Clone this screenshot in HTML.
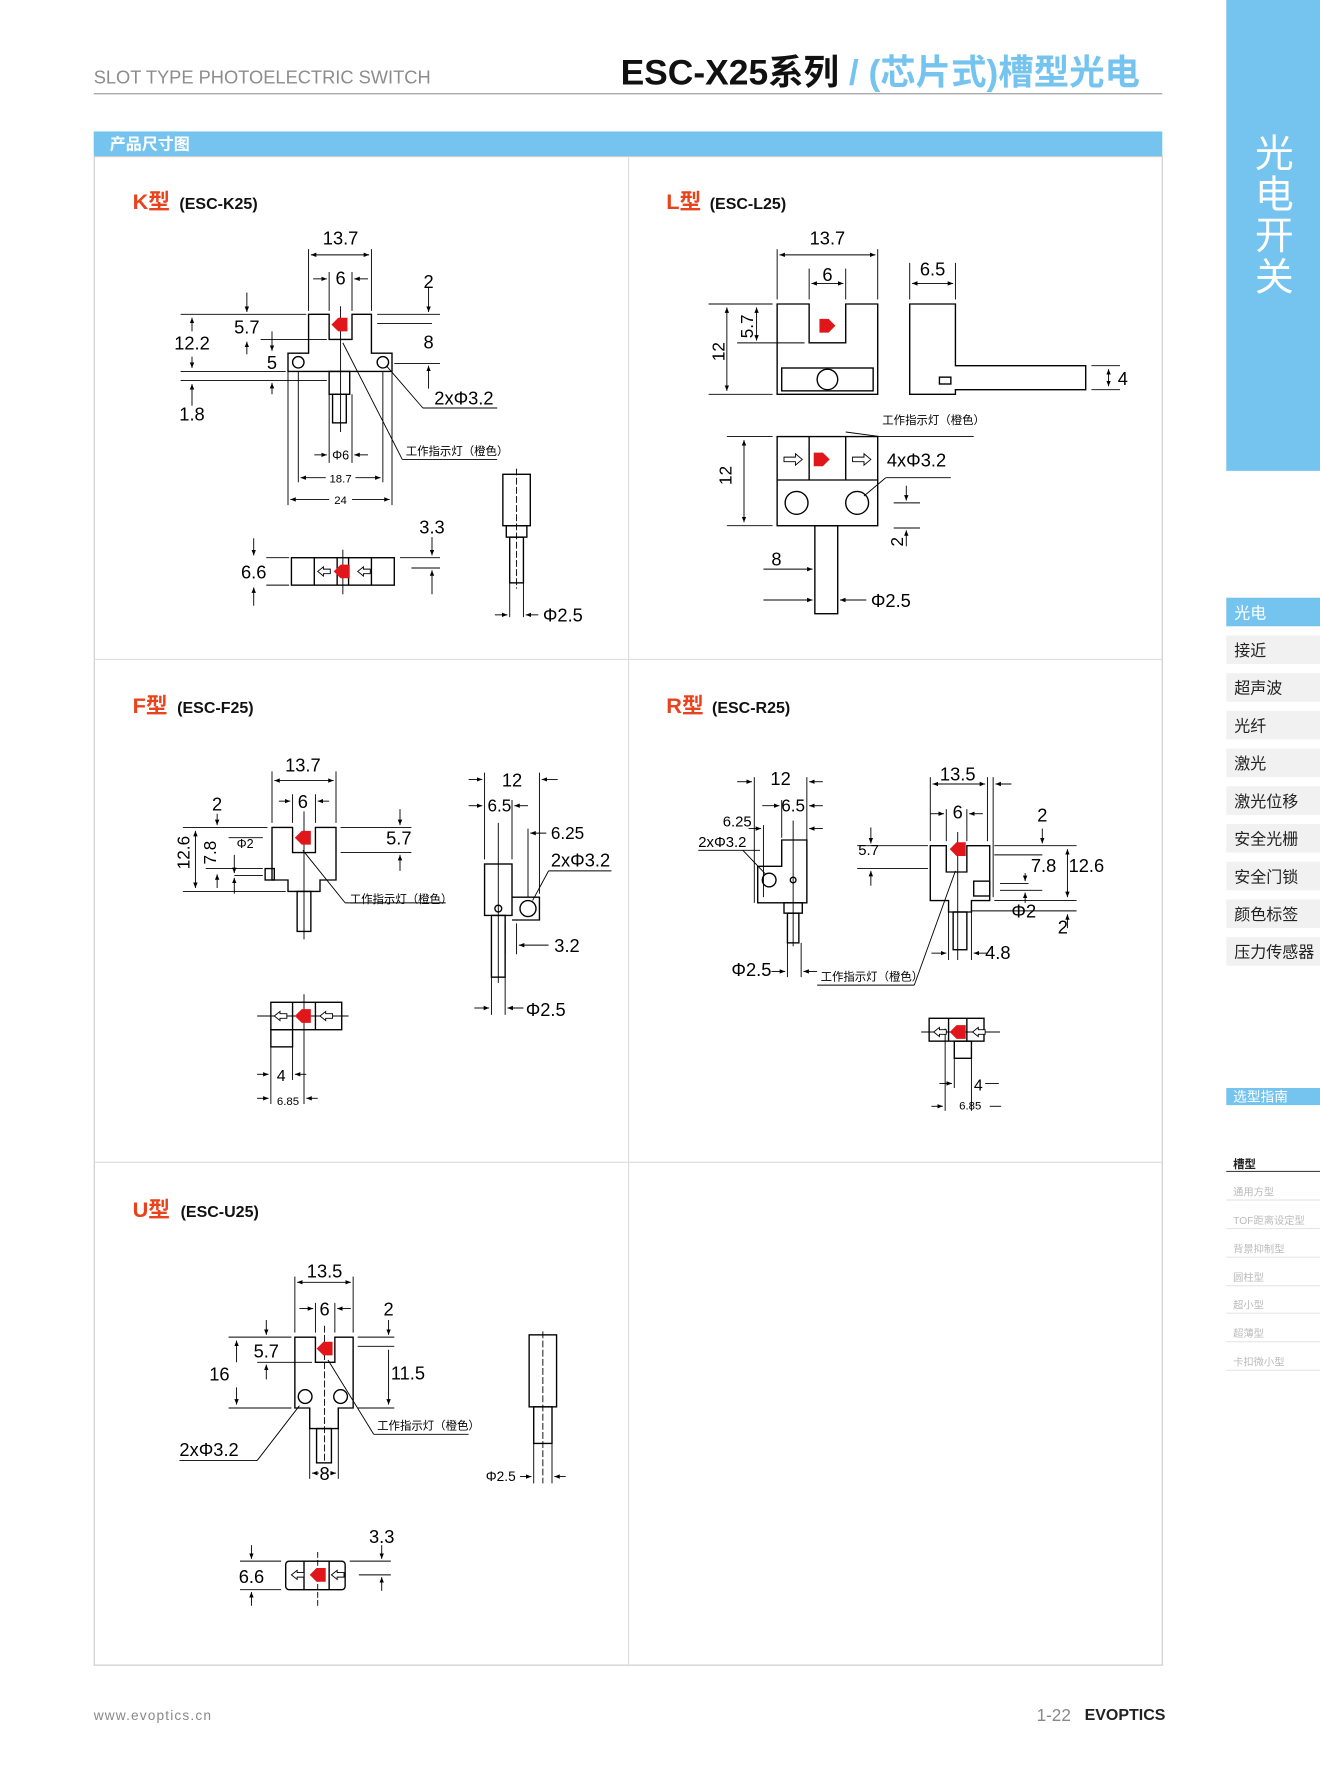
<!DOCTYPE html>
<html><head><meta charset="utf-8"><style>
html,body{margin:0;padding:0;background:#fff}
svg{display:block}
text{font-family:"Liberation Sans","Noto Sans CJK SC",sans-serif}
</style></head><body>
<svg width="1320" height="1792" viewBox="0 0 1155 1568" preserveAspectRatio="none" xmlns="http://www.w3.org/2000/svg">
<defs>
<marker id="a" viewBox="0 0 10 10" refX="10" refY="5" markerWidth="6" markerHeight="6" orient="auto-start-reverse"><path d="M0,1 L10,5 L0,9 Z" fill="#000"/></marker>
</defs>
<rect width="1155" height="1568" fill="#fff"/>
<!-- header -->
<text x="82" y="73" font-size="16" fill="#8c8c8c">SLOT TYPE PHOTOELECTRIC SWITCH</text>
<text x="543" y="74" font-size="31" font-weight="bold" fill="#111">ESC-X25系列 <tspan fill="#74c4ef">/ (芯片式)槽型光电</tspan></text>
<line x1="82" y1="82" x2="1017" y2="82" stroke="#aaa" stroke-width="1.2"/>
<rect x="82" y="115" width="935" height="22" fill="#74c4ef"/>
<text x="96" y="131" font-size="14" font-weight="bold" fill="#fff">产品尺寸图</text>
<rect x="82.5" y="137" width="934.5" height="1320" fill="none" stroke="#ccc"/>
<line x1="550" y1="137" x2="550" y2="1457" stroke="#ddd"/>
<line x1="82" y1="577" x2="1017" y2="577" stroke="#ddd"/>
<line x1="82" y1="1017" x2="1017" y2="1017" stroke="#ddd"/>
<!-- sidebar -->
<rect x="1073" y="0" width="82" height="412" fill="#74c4ef"/>
<g font-size="34" fill="#fff" text-anchor="middle"><text x="1115" y="146">光</text><text x="1115" y="182">电</text><text x="1115" y="218">开</text><text x="1115" y="254">关</text></g>
<rect x="1073" y="523" width="82" height="25" fill="#74c4ef"/>
<text x="1080" y="541" font-size="14" fill="#fff">光电</text>
<g fill="#f1f1f1"><rect x="1073" y="556" width="82" height="25"/><rect x="1073" y="589" width="82" height="25"/><rect x="1073" y="622" width="82" height="25"/><rect x="1073" y="655" width="82" height="25"/><rect x="1073" y="688" width="82" height="25"/><rect x="1073" y="721" width="82" height="25"/><rect x="1073" y="754" width="82" height="25"/><rect x="1073" y="787" width="82" height="25"/><rect x="1073" y="820" width="82" height="25"/></g>
<g font-size="14" fill="#222"><text x="1080" y="574">接近</text><text x="1080" y="607">超声波</text><text x="1080" y="640">光纤</text><text x="1080" y="673">激光</text><text x="1080" y="706">激光位移</text><text x="1080" y="739">安全光栅</text><text x="1080" y="772">安全门锁</text><text x="1080" y="805">颜色标签</text><text x="1080" y="838">压力传感器</text></g>
<rect x="1073" y="952" width="82" height="15" fill="#74c4ef"/>
<text x="1079" y="964" font-size="12" fill="#fff">选型指南</text>
<text x="1079" y="1022" font-size="10" font-weight="bold" fill="#222">槽型</text>
<line x1="1073" y1="1025" x2="1155" y2="1025" stroke="#444"/>
<g font-size="9" fill="#bbb"><text x="1079" y="1046">通用方型</text><text x="1079" y="1071">TOF距离设定型</text><text x="1079" y="1096">背景抑制型</text><text x="1079" y="1121">圆柱型</text><text x="1079" y="1145">超小型</text><text x="1079" y="1170">超薄型</text><text x="1079" y="1195">卡扣微小型</text></g>
<g stroke="#e6e6e6"><line x1="1073" y1="1050" x2="1155" y2="1050"/><line x1="1073" y1="1075" x2="1155" y2="1075"/><line x1="1073" y1="1100" x2="1155" y2="1100"/><line x1="1073" y1="1125" x2="1155" y2="1125"/><line x1="1073" y1="1149" x2="1155" y2="1149"/><line x1="1073" y1="1174" x2="1155" y2="1174"/><line x1="1073" y1="1199" x2="1155" y2="1199"/></g>
<!-- footer -->
<text x="82" y="1505" font-size="12" fill="#888" letter-spacing="1">www.evoptics.cn</text>
<text x="907" y="1506" font-size="15" fill="#888">1-22</text>
<text x="949" y="1505" font-size="14" font-weight="bold" fill="#222">EVOPTICS</text>

<!-- titles -->
<g font-weight="bold">
<text x="116" y="183" font-size="19" fill="#e8431c">K型</text><text x="157" y="183" font-size="14" fill="#111">(ESC-K25)</text>
<text x="583" y="183" font-size="19" fill="#e8431c">L型</text><text x="621" y="183" font-size="14" fill="#111">(ESC-L25)</text>
<text x="116" y="624" font-size="19" fill="#e8431c">F型</text><text x="155" y="624" font-size="14" fill="#111">(ESC-F25)</text>
<text x="583" y="624" font-size="19" fill="#e8431c">R型</text><text x="623" y="624" font-size="14" fill="#111">(ESC-R25)</text>
<text x="116" y="1065" font-size="19" fill="#e8431c">U型</text><text x="158" y="1065" font-size="14" fill="#111">(ESC-U25)</text>
</g>

<g fill="none" stroke="#000" stroke-width="1.2">
<!-- K front -->
<path d="M270,275 H288 V297 H308 V275 H325 V309 H343 V325 H252 V309 H270 Z"/>
<circle cx="261" cy="317" r="5"/><circle cx="335" cy="317" r="5"/>
<rect x="288" y="325" width="18" height="20"/><rect x="291" y="345" width="12" height="25"/>
<g stroke-width="0.8">
<line x1="270" y1="218" x2="270" y2="272"/><line x1="325" y1="218" x2="325" y2="272"/>
<line x1="272" y1="223" x2="323" y2="223" marker-start="url(#a)" marker-end="url(#a)"/>
<line x1="288" y1="238" x2="288" y2="272"/><line x1="308" y1="238" x2="308" y2="272"/>
<line x1="274" y1="244" x2="286" y2="244" marker-end="url(#a)"/><line x1="322" y1="244" x2="310" y2="244" marker-end="url(#a)"/>
<line x1="158" y1="275" x2="268" y2="275"/><line x1="158" y1="325" x2="250" y2="325"/><line x1="158" y1="333" x2="286" y2="333"/>
<line x1="168" y1="290" x2="168" y2="278" marker-end="url(#a)"/><line x1="168" y1="312" x2="168" y2="322" marker-end="url(#a)"/>
<line x1="168" y1="355" x2="168" y2="336" marker-end="url(#a)"/>
<line x1="216" y1="256" x2="216" y2="273" marker-end="url(#a)"/><line x1="216" y1="310" x2="216" y2="299" marker-end="url(#a)"/>
<line x1="228" y1="297" x2="286" y2="297"/><line x1="238" y1="290" x2="238" y2="307" marker-end="url(#a)"/><line x1="238" y1="345" x2="238" y2="335" marker-end="url(#a)"/>
<line x1="330" y1="275" x2="385" y2="275"/><line x1="330" y1="283" x2="378" y2="283"/><line x1="345" y1="318" x2="385" y2="318"/>
<line x1="375" y1="252" x2="375" y2="273" marker-end="url(#a)"/><line x1="375" y1="340" x2="375" y2="320" marker-end="url(#a)"/>
<line x1="298" y1="268" x2="298" y2="378"/>
<line x1="338" y1="320" x2="370" y2="357"/><line x1="370" y1="357" x2="435" y2="357"/>
<line x1="300" y1="300" x2="352" y2="402"/><line x1="352" y1="402" x2="435" y2="402"/>
<line x1="261" y1="325" x2="261" y2="422"/><line x1="335" y1="325" x2="335" y2="422"/><line x1="252" y1="325" x2="252" y2="442"/><line x1="343" y1="325" x2="343" y2="442"/><line x1="288" y1="345" x2="288" y2="405"/><line x1="308" y1="345" x2="308" y2="405"/>
<line x1="275" y1="398" x2="286" y2="398" marker-end="url(#a)"/><line x1="322" y1="398" x2="310" y2="398" marker-end="url(#a)"/>
<line x1="263" y1="418" x2="285" y2="418" marker-start="url(#a)"/><line x1="311" y1="418" x2="333" y2="418" marker-end="url(#a)"/>
<line x1="254" y1="437" x2="288" y2="437" marker-start="url(#a)"/><line x1="308" y1="437" x2="341" y2="437" marker-end="url(#a)"/>
</g>
<!-- K bottom -->
<rect x="255" y="488" width="90" height="24"/><path d="M275,488V512M295,488V512M305,488V512M325,488V512"/>
<g stroke-width="0.8"><line x1="233" y1="488" x2="253" y2="488"/><line x1="233" y1="512" x2="253" y2="512"/><line x1="222" y1="471" x2="222" y2="486" marker-end="url(#a)"/><line x1="222" y1="530" x2="222" y2="514" marker-end="url(#a)"/><line x1="350" y1="488" x2="385" y2="488"/><line x1="360" y1="497" x2="385" y2="497"/><line x1="378" y1="470" x2="378" y2="486" marker-end="url(#a)"/><line x1="378" y1="520" x2="378" y2="499" marker-end="url(#a)"/><line x1="300" y1="481" x2="300" y2="520"/></g>
<!-- K side -->
<rect x="440" y="415" width="24" height="45"/><rect x="443" y="460" width="18" height="10"/><rect x="446" y="470" width="12" height="40"/>
<g stroke-width="0.8"><line x1="452" y1="410" x2="452" y2="515" stroke-dasharray="6 2"/><line x1="446" y1="510" x2="446" y2="540"/><line x1="458" y1="510" x2="458" y2="540"/><line x1="433" y1="538" x2="444" y2="538" marker-end="url(#a)"/><line x1="471" y1="538" x2="460" y2="538" marker-end="url(#a)"/></g>

<!-- L front -->
<path d="M680,266 H708 V300 H740 V266 H768 V345 H680 Z"/>
<rect x="684" y="322" width="80" height="20"/><circle cx="724" cy="332" r="9"/>
<path d="M796,266 H836 V320 H950 V341 H836 V345 H796 Z"/><rect x="822" y="330" width="10" height="6"/>
<g stroke-width="0.8">
<line x1="680" y1="218" x2="680" y2="262"/><line x1="768" y1="218" x2="768" y2="262"/><line x1="682" y1="223" x2="766" y2="223" marker-start="url(#a)" marker-end="url(#a)"/>
<line x1="708" y1="235" x2="708" y2="262"/><line x1="740" y1="235" x2="740" y2="262"/><line x1="710" y1="248" x2="738" y2="248" marker-start="url(#a)" marker-end="url(#a)"/>
<line x1="620" y1="266" x2="676" y2="266"/><line x1="620" y1="345" x2="676" y2="345"/><line x1="636" y1="269" x2="636" y2="342" marker-start="url(#a)" marker-end="url(#a)"/>
<line x1="645" y1="300" x2="704" y2="300"/><line x1="662" y1="269" x2="662" y2="298" marker-start="url(#a)" marker-end="url(#a)"/>
<line x1="796" y1="230" x2="796" y2="262"/><line x1="836" y1="230" x2="836" y2="262"/><line x1="798" y1="248" x2="834" y2="248" marker-start="url(#a)" marker-end="url(#a)"/>
<line x1="955" y1="320" x2="980" y2="320"/><line x1="955" y1="341" x2="980" y2="341"/><line x1="970" y1="323" x2="970" y2="338" marker-start="url(#a)" marker-end="url(#a)"/>
</g>
<text x="620" y="310" font-size="15" stroke="none" fill="#000" transform="rotate(-90 630 306)">12</text>
<text x="645" y="290" font-size="15" stroke="none" fill="#000" transform="rotate(-90 655 286)">5.7</text>
<!-- L bottom -->
<rect x="680" y="382" width="88" height="78"/><path d="M680,420H768M708,382V420M740,382V420"/>
<circle cx="697" cy="440" r="10"/><circle cx="750" cy="440" r="10"/>
<rect x="713" y="460" width="20" height="77"/>
<g stroke-width="0.8">
<line x1="636" y1="382" x2="676" y2="382"/><line x1="636" y1="460" x2="676" y2="460"/><line x1="651" y1="385" x2="651" y2="457" marker-start="url(#a)" marker-end="url(#a)"/>
<line x1="740" y1="378" x2="770" y2="382"/><line x1="770" y1="382" x2="852" y2="382"/>
<line x1="756" y1="434" x2="775" y2="418"/><line x1="775" y1="418" x2="832" y2="418"/>
<line x1="782" y1="440" x2="805" y2="440"/><line x1="782" y1="462" x2="805" y2="462"/><line x1="793" y1="425" x2="793" y2="438" marker-end="url(#a)"/><line x1="793" y1="478" x2="793" y2="464" marker-end="url(#a)"/>
<line x1="668" y1="498" x2="711" y2="498" marker-end="url(#a)"/><line x1="668" y1="525" x2="711" y2="525" marker-end="url(#a)"/><line x1="758" y1="525" x2="735" y2="525" marker-end="url(#a)"/>
</g>

<!-- F front -->
<path d="M238,724 H256 V746 H276 V724 H294 V770 H280 V780 H252 V770 H238 Z"/>
<rect x="232" y="760" width="8" height="10"/><rect x="260" y="780" width="12" height="35"/>
<g stroke-width="0.8">
<line x1="238" y1="675" x2="238" y2="720"/><line x1="294" y1="675" x2="294" y2="720"/><line x1="240" y1="683" x2="292" y2="683" marker-start="url(#a)" marker-end="url(#a)"/>
<line x1="256" y1="695" x2="256" y2="720"/><line x1="276" y1="695" x2="276" y2="720"/><line x1="244" y1="701" x2="254" y2="701" marker-end="url(#a)"/><line x1="288" y1="701" x2="278" y2="701" marker-end="url(#a)"/>
<line x1="160" y1="724" x2="234" y2="724"/><line x1="160" y1="780" x2="250" y2="780"/><line x1="171" y1="727" x2="171" y2="777" marker-start="url(#a)" marker-end="url(#a)"/>
<line x1="180" y1="760" x2="230" y2="760"/><line x1="190" y1="765" x2="190" y2="777" marker-start="url(#a)"/>
<line x1="190" y1="712" x2="190" y2="722" marker-end="url(#a)"/>
<line x1="200" y1="733" x2="230" y2="733"/>
<line x1="205" y1="766" x2="230" y2="766"/><line x1="205" y1="748" x2="205" y2="764" marker-end="url(#a)"/><line x1="205" y1="782" x2="205" y2="768" marker-end="url(#a)"/>
<line x1="298" y1="724" x2="360" y2="724"/><line x1="298" y1="746" x2="360" y2="746"/><line x1="350" y1="708" x2="350" y2="722" marker-end="url(#a)"/><line x1="350" y1="762" x2="350" y2="748" marker-end="url(#a)"/>
<line x1="265" y1="744" x2="302" y2="790"/><line x1="302" y1="790" x2="390" y2="790"/><line x1="266" y1="710" x2="266" y2="822"/>
</g>
<!-- F side -->
<rect x="424" y="756" width="24" height="45"/><path d="M448,785 H472 V805 H448"/><circle cx="436" cy="795" r="3"/><circle cx="462" cy="795" r="7"/>
<rect x="430" y="801" width="12" height="54"/>
<g stroke-width="0.8">
<line x1="424" y1="676" x2="424" y2="752"/><line x1="472" y1="676" x2="472" y2="782"/><line x1="410" y1="682" x2="422" y2="682" marker-end="url(#a)"/><line x1="488" y1="682" x2="474" y2="682" marker-end="url(#a)"/>
<line x1="448" y1="700" x2="448" y2="752"/><line x1="410" y1="705" x2="422" y2="705" marker-end="url(#a)"/><line x1="462" y1="705" x2="450" y2="705" marker-end="url(#a)"/>
<line x1="462" y1="725" x2="462" y2="785"/><line x1="478" y1="729" x2="464" y2="729" marker-end="url(#a)"/>
<line x1="436" y1="720" x2="436" y2="860"/>
<line x1="466" y1="788" x2="480" y2="762"/><line x1="480" y1="762" x2="535" y2="762"/>
<line x1="442" y1="808" x2="442" y2="835"/><line x1="452" y1="808" x2="452" y2="835"/><line x1="480" y1="827" x2="454" y2="827" marker-end="url(#a)"/>
<line x1="430" y1="855" x2="430" y2="888"/><line x1="442" y1="855" x2="442" y2="888"/><line x1="415" y1="882" x2="428" y2="882" marker-end="url(#a)"/><line x1="458" y1="882" x2="444" y2="882" marker-end="url(#a)"/>
</g>
<!-- F bottom -->
<rect x="237" y="877" width="62" height="24"/><path d="M256,877V901M276,877V901"/><rect x="237" y="901" width="19" height="15"/>
<g stroke-width="0.8"><line x1="225" y1="889" x2="305" y2="889"/><line x1="237" y1="916" x2="237" y2="966"/><line x1="256" y1="916" x2="256" y2="945"/><line x1="266" y1="870" x2="266" y2="966"/><line x1="225" y1="940" x2="235" y2="940" marker-end="url(#a)"/><line x1="268" y1="940" x2="258" y2="940" marker-end="url(#a)"/><line x1="225" y1="961" x2="235" y2="961" marker-end="url(#a)"/><line x1="278" y1="961" x2="268" y2="961" marker-end="url(#a)"/></g>

<!-- R side -->
<path d="M684,735 H706 V790 H663 V758 H684 Z"/><circle cx="673" cy="770" r="6"/><circle cx="694" cy="770" r="2.5"/>
<rect x="686" y="790" width="16" height="9"/><rect x="689" y="799" width="10" height="26"/>
<g stroke-width="0.8">
<line x1="660" y1="680" x2="660" y2="790"/><line x1="706" y1="680" x2="706" y2="735"/><line x1="645" y1="684" x2="658" y2="684" marker-end="url(#a)"/><line x1="720" y1="684" x2="708" y2="684" marker-end="url(#a)"/>
<line x1="684" y1="700" x2="684" y2="733"/><line x1="667" y1="705" x2="682" y2="705" marker-end="url(#a)"/><line x1="720" y1="705" x2="708" y2="705" marker-end="url(#a)"/>
<line x1="668" y1="722" x2="668" y2="785"/><line x1="655" y1="725" x2="666" y2="725" marker-end="url(#a)"/><line x1="720" y1="725" x2="708" y2="725" marker-end="url(#a)"/>
<line x1="694" y1="718" x2="694" y2="828"/>
<line x1="611" y1="744" x2="665" y2="744"/><line x1="650" y1="744" x2="670" y2="765"/>
<line x1="689" y1="825" x2="689" y2="855"/><line x1="701" y1="825" x2="701" y2="855"/><line x1="675" y1="850" x2="687" y2="850" marker-end="url(#a)"/><line x1="715" y1="850" x2="703" y2="850" marker-end="url(#a)"/>
</g>
<!-- R front -->
<path d="M814,740 H828 V763 H846 V740 H866 V788 H850 V798 H830 V788 H814 Z"/>
<rect x="852" y="771" width="14" height="13"/><rect x="834" y="798" width="12" height="33"/>
<g stroke-width="0.8">
<line x1="814" y1="680" x2="814" y2="736"/><line x1="864" y1="680" x2="864" y2="736"/><line x1="869" y1="680" x2="869" y2="785"/>
<line x1="816" y1="686" x2="862" y2="686" marker-start="url(#a)" marker-end="url(#a)"/><line x1="885" y1="686" x2="871" y2="686" marker-end="url(#a)"/>
<line x1="828" y1="708" x2="828" y2="736"/><line x1="846" y1="708" x2="846" y2="736"/><line x1="814" y1="712" x2="826" y2="712" marker-end="url(#a)"/><line x1="860" y1="712" x2="848" y2="712" marker-end="url(#a)"/>
<line x1="750" y1="740" x2="812" y2="740"/><line x1="750" y1="760" x2="812" y2="760"/><line x1="762" y1="724" x2="762" y2="738" marker-end="url(#a)"/><line x1="762" y1="775" x2="762" y2="762" marker-end="url(#a)"/>
<line x1="870" y1="740" x2="942" y2="740"/><line x1="870" y1="748" x2="912" y2="748"/><line x1="912" y1="725" x2="912" y2="738" marker-end="url(#a)"/>
<line x1="934" y1="743" x2="934" y2="785" marker-start="url(#a)" marker-end="url(#a)"/>
<line x1="870" y1="788" x2="942" y2="788"/><line x1="850" y1="797" x2="942" y2="797"/><line x1="934" y1="812" x2="934" y2="800" marker-end="url(#a)"/>
<line x1="875" y1="773" x2="900" y2="773"/><line x1="875" y1="779" x2="912" y2="779"/><line x1="897" y1="764" x2="897" y2="771" marker-end="url(#a)"/><line x1="897" y1="790" x2="897" y2="781" marker-end="url(#a)"/>
<line x1="830" y1="798" x2="830" y2="840"/><line x1="850" y1="798" x2="850" y2="840"/><line x1="815" y1="834" x2="828" y2="834" marker-end="url(#a)"/><line x1="864" y1="834" x2="852" y2="834" marker-end="url(#a)"/>
<line x1="836" y1="762" x2="800" y2="862"/><line x1="800" y1="862" x2="715" y2="862"/><line x1="838" y1="728" x2="838" y2="840"/>
</g>
<!-- R bottom -->
<rect x="813" y="891" width="48" height="20"/><path d="M830,891V911M846,891V911"/><rect x="835" y="911" width="15" height="15"/>
<g stroke-width="0.8"><line x1="806" y1="903" x2="875" y2="903"/><line x1="827" y1="900" x2="827" y2="972"/><line x1="835" y1="926" x2="835" y2="952"/><line x1="850" y1="926" x2="850" y2="972"/><line x1="822" y1="948" x2="833" y2="948" marker-end="url(#a)"/><line x1="874" y1="948" x2="862" y2="948"/><line x1="850" y1="948" x2="850" y2="948"/><line x1="815" y1="968" x2="825" y2="968" marker-end="url(#a)"/><line x1="876" y1="968" x2="866" y2="968"/></g>

<!-- U front -->
<path d="M258,1170 H276 V1192 H293 V1170 H309 V1232 H296 V1250 H271 V1232 H258 Z"/>
<circle cx="267" cy="1222" r="6"/><circle cx="298" cy="1222" r="6"/><rect x="277" y="1250" width="13" height="30"/>
<g stroke-width="0.8">
<line x1="258" y1="1117" x2="258" y2="1166"/><line x1="309" y1="1117" x2="309" y2="1166"/><line x1="260" y1="1122" x2="307" y2="1122" marker-start="url(#a)" marker-end="url(#a)"/>
<line x1="276" y1="1140" x2="276" y2="1166"/><line x1="293" y1="1140" x2="293" y2="1166"/><line x1="262" y1="1145" x2="274" y2="1145" marker-end="url(#a)"/><line x1="307" y1="1145" x2="295" y2="1145" marker-end="url(#a)"/>
<line x1="200" y1="1170" x2="255" y2="1170"/><line x1="200" y1="1232" x2="255" y2="1232"/><line x1="207" y1="1173" x2="207" y2="1192" marker-start="url(#a)"/><line x1="207" y1="1214" x2="207" y2="1229" marker-end="url(#a)"/>
<line x1="225" y1="1192" x2="273" y2="1192"/><line x1="233" y1="1155" x2="233" y2="1168" marker-end="url(#a)"/><line x1="233" y1="1207" x2="233" y2="1194" marker-end="url(#a)"/>
<line x1="313" y1="1170" x2="345" y2="1170"/><line x1="313" y1="1178" x2="345" y2="1178"/><line x1="340" y1="1155" x2="340" y2="1168" marker-end="url(#a)"/><line x1="340" y1="1181" x2="340" y2="1229" marker-end="url(#a)"/><line x1="313" y1="1232" x2="345" y2="1232"/>
<line x1="284" y1="1160" x2="284" y2="1280" stroke-dasharray="6 2"/>
<line x1="262" y1="1230" x2="225" y2="1278"/><line x1="225" y1="1278" x2="157" y2="1278"/>
<line x1="287" y1="1190" x2="327" y2="1255"/><line x1="327" y1="1255" x2="410" y2="1255"/>
<line x1="271" y1="1250" x2="271" y2="1294"/><line x1="296" y1="1250" x2="296" y2="1294"/><line x1="279" y1="1289" x2="273" y2="1289" marker-end="url(#a)"/><line x1="289" y1="1289" x2="294" y2="1289" marker-end="url(#a)"/>
</g>
<!-- U side -->
<rect x="463" y="1168" width="24" height="63"/><rect x="467" y="1231" width="16" height="32"/>
<g stroke-width="0.8"><line x1="475" y1="1165" x2="475" y2="1298" stroke-dasharray="6 2"/><line x1="467" y1="1263" x2="467" y2="1298"/><line x1="483" y1="1263" x2="483" y2="1298"/><line x1="455" y1="1292" x2="465" y2="1292" marker-end="url(#a)"/><line x1="495" y1="1292" x2="485" y2="1292" marker-end="url(#a)"/></g>
<!-- U bottom -->
<rect x="250" y="1366" width="52" height="25" rx="3"/><path d="M266,1366V1391M288,1366V1391"/>
<g stroke-width="0.8"><line x1="210" y1="1366" x2="246" y2="1366"/><line x1="210" y1="1391" x2="246" y2="1391"/><line x1="220" y1="1352" x2="220" y2="1364" marker-end="url(#a)"/><line x1="220" y1="1405" x2="220" y2="1393" marker-end="url(#a)"/><line x1="306" y1="1366" x2="342" y2="1366"/><line x1="314" y1="1378" x2="342" y2="1378"/><line x1="334" y1="1352" x2="334" y2="1364" marker-end="url(#a)"/><line x1="334" y1="1392" x2="334" y2="1380" marker-end="url(#a)"/><line x1="278" y1="1358" x2="278" y2="1405" stroke-dasharray="5 2"/></g>
</g>

<!-- red arrows -->
<g fill="#e0161b">
<path d="M290,284 l6,-6 h8 v12 h-8 z"/>
<path d="M292,500 l6,-6 h8 v12 h-8 z"/>
<path d="M258,733 l6,-6 h8 v12 h-8 z"/>
<path d="M258,889 l6,-6 h8 v12 h-8 z"/>
<path d="M831,743 l6,-6 h8 v12 h-8 z"/>
<path d="M831,903 l6,-6 h8 v12 h-8 z"/>
<path d="M277,1180 l6,-6 h8 v12 h-8 z"/>
<path d="M271,1378 l6,-6 h8 v12 h-8 z"/>
<path d="M731,285 l-6,-6 h-8 v12 h8 z"/>
<path d="M726,402 l-6,-6 h-8 v12 h8 z"/>
</g>
<g fill="#fff" stroke="#000" stroke-width="0.8">
<path d="M278,500 l5,-4 v2 h6 v4 h-6 v2 z"/><path d="M313,500 l5,-4 v2 h6 v4 h-6 v2 z"/>
<path d="M240,889 l5,-4 v2 h6 v4 h-6 v2 z"/><path d="M280,889 l5,-4 v2 h6 v4 h-6 v2 z"/>
<path d="M817,903 l5,-4 v2 h6 v4 h-6 v2 z"/><path d="M851,903 l5,-4 v2 h6 v4 h-6 v2 z"/>
<path d="M255,1378 l5,-4 v2 h6 v4 h-6 v2 z"/><path d="M290,1378 l5,-4 v2 h6 v4 h-6 v2 z"/>
<path d="M702,402 l-6,-5 v3 h-10 v4 h10 v3 z"/><path d="M762,402 l-6,-5 v3 h-10 v4 h10 v3 z"/>
</g>

<!-- labels -->
<g fill="#000" font-size="16">
<text x="298" y="214" text-anchor="middle">13.7</text><text x="298" y="249" text-anchor="middle">6</text><text x="375" y="252" text-anchor="middle">2</text>
<text x="168" y="306" text-anchor="middle">12.2</text><text x="216" y="292" text-anchor="middle">5.7</text><text x="238" y="323" text-anchor="middle">5</text><text x="375" y="305" text-anchor="middle">8</text>
<text x="168" y="368" text-anchor="middle">1.8</text><text x="380" y="354">2xΦ3.2</text>
<text x="222" y="506" text-anchor="middle">6.6</text><text x="378" y="467" text-anchor="middle">3.3</text><text x="475" y="544">Φ2.5</text>
<text x="724" y="214" text-anchor="middle">13.7</text><text x="724" y="246" text-anchor="middle">6</text><text x="816" y="241" text-anchor="middle">6.5</text><text x="978" y="337">4</text>
<text x="776" y="408">4xΦ3.2</text><text x="675" y="495">8</text><text x="762" y="531">Φ2.5</text>
<text x="265" y="675" text-anchor="middle">13.7</text><text x="265" y="707" text-anchor="middle">6</text><text x="190" y="709" text-anchor="middle">2</text><text x="349" y="739" text-anchor="middle">5.7</text>
<text x="448" y="688" text-anchor="middle">12</text><text x="437" y="710" text-anchor="middle" font-size="15">6.5</text><text x="482" y="734" font-size="15">6.25</text><text x="482" y="758">2xΦ3.2</text><text x="485" y="833">3.2</text><text x="460" y="889">Φ2.5</text>
<text x="246" y="946" text-anchor="middle" font-size="14">4</text>
<text x="683" y="687" text-anchor="middle">12</text><text x="694" y="710" text-anchor="middle" font-size="15">6.5</text><text x="645" y="723" text-anchor="middle" font-size="13">6.25</text><text x="611" y="741" font-size="13">2xΦ3.2</text><text x="640" y="854">Φ2.5</text>
<text x="838" y="683" text-anchor="middle">13.5</text><text x="838" y="716" text-anchor="middle">6</text><text x="912" y="719" text-anchor="middle">2</text><text x="751" y="748" font-size="13">5.7</text><text x="902" y="763">7.8</text><text x="935" y="763">12.6</text><text x="885" y="803">Φ2</text><text x="930" y="817" text-anchor="middle">2</text><text x="862" y="839">4.8</text>
<text x="856" y="954" text-anchor="middle" font-size="14">4</text>
<text x="284" y="1118" text-anchor="middle">13.5</text><text x="284" y="1151" text-anchor="middle">6</text><text x="340" y="1151" text-anchor="middle">2</text><text x="233" y="1188" text-anchor="middle">5.7</text><text x="192" y="1208" text-anchor="middle">16</text><text x="342" y="1207">11.5</text>
<text x="157" y="1274">2xΦ3.2</text><text x="284" y="1295" text-anchor="middle">8</text><text x="425" y="1296" font-size="12">Φ2.5</text>
<text x="220" y="1385" text-anchor="middle">6.6</text><text x="334" y="1350" text-anchor="middle">3.3</text>
</g>
<g fill="#000" font-size="15">
<text x="161" y="751" transform="rotate(-90 161 746)" text-anchor="middle">12.6</text>
<text x="184" y="751" transform="rotate(-90 184 746)" text-anchor="middle">7.8</text>
<text x="644" y="420" transform="rotate(-90 640 420)" text-anchor="middle">12</text>
<text x="790" y="482" transform="rotate(-90 786 478)" text-anchor="middle">2</text>
</g>
<g fill="#000" font-size="11">
<text x="298" y="402" text-anchor="middle">Φ6</text>
<text x="298" y="422" text-anchor="middle" font-size="10">18.7</text><text x="298" y="441" text-anchor="middle" font-size="10">24</text>
<text x="355" y="398" font-size="10">工作指示灯（橙色）</text>
<text x="772" y="371" font-size="10">工作指示灯（橙色）</text>
<text x="207" y="742" font-size="11">Φ2</text>
<text x="306" y="790" font-size="10">工作指示灯（橙色）</text>
<text x="252" y="967" text-anchor="middle" font-size="10">6.85</text>
<text x="718" y="858" font-size="10">工作指示灯（橙色）</text>
<text x="849" y="971" text-anchor="middle" font-size="10">6.85</text>
<text x="330" y="1251" font-size="10">工作指示灯（橙色）</text>
</g>
</svg>
</body></html>
